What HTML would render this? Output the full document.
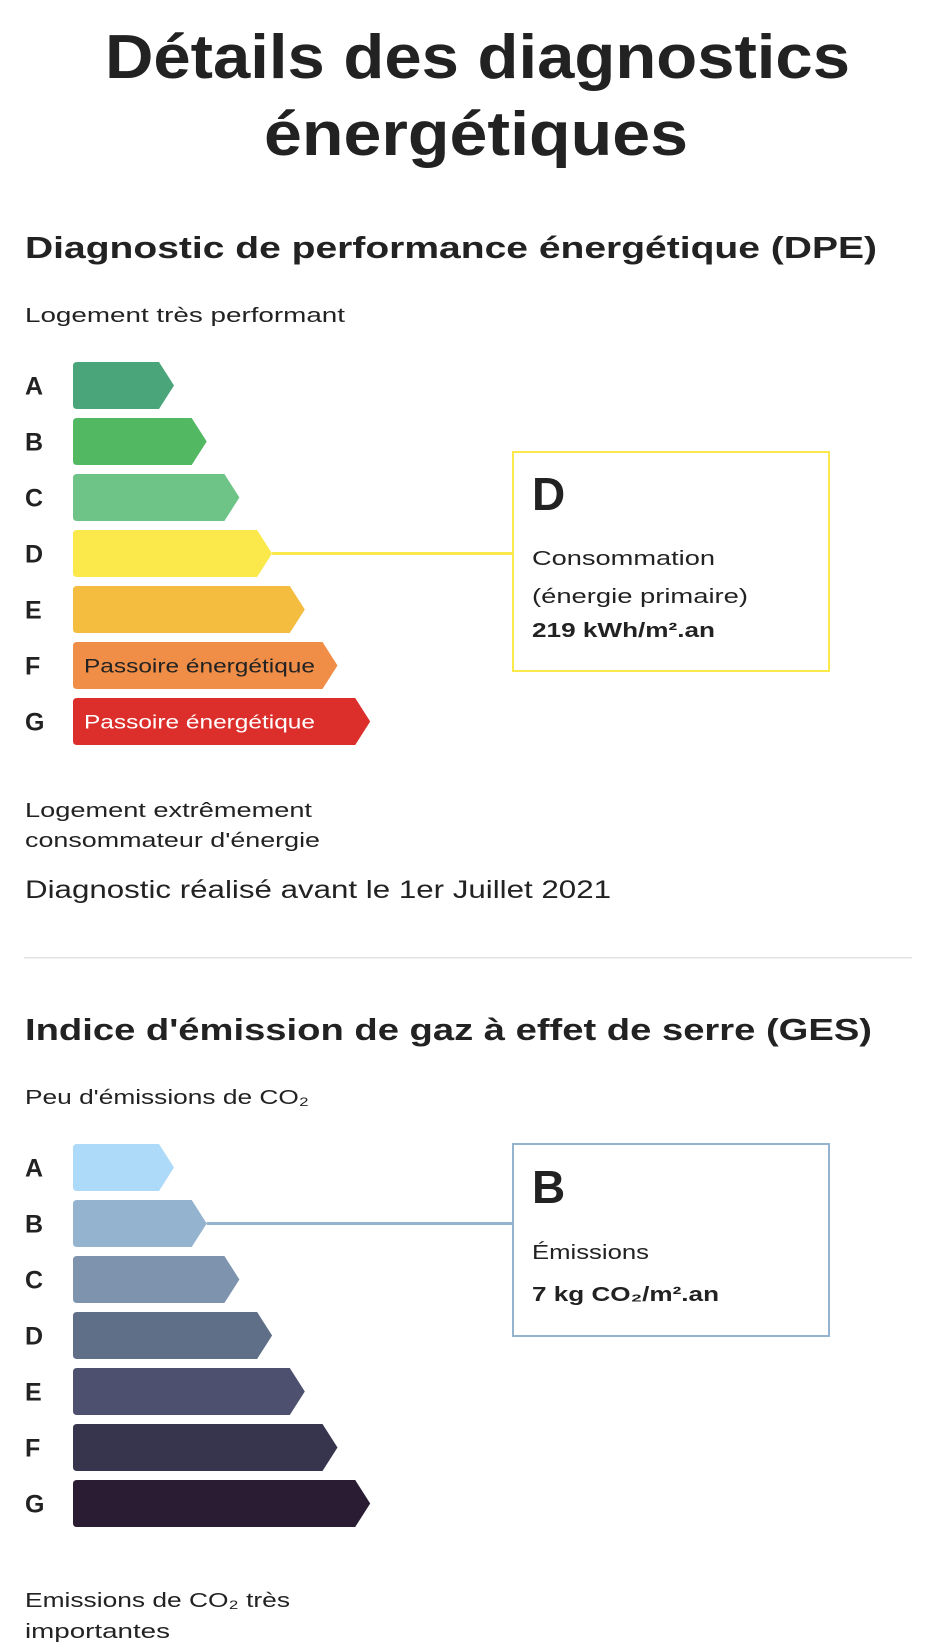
<!DOCTYPE html>
<html><head><meta charset="utf-8"><style>
html,body{margin:0;padding:0;background:#fff;}
svg{display:block;font-family:"Liberation Sans",sans-serif;}
</style></head><body>
<svg id="page" width="926" height="1650" viewBox="0 0 926 1650" xmlns="http://www.w3.org/2000/svg">
<g fill="#222">
<text x="105" y="78" font-size="62" font-weight="bold" textLength="745" lengthAdjust="spacingAndGlyphs">Détails des diagnostics</text>
<text x="264" y="155" font-size="62" font-weight="bold" textLength="424" lengthAdjust="spacingAndGlyphs">énergétiques</text>
<text x="25" y="258" font-size="31" font-weight="bold" textLength="852" lengthAdjust="spacingAndGlyphs">Diagnostic de performance énergétique (DPE)</text>
<text x="25" y="322" font-size="20" textLength="320" lengthAdjust="spacingAndGlyphs">Logement très performant</text>
<text x="25" y="817" font-size="20" textLength="287" lengthAdjust="spacingAndGlyphs">Logement extrêmement</text>
<text x="25" y="847" font-size="20" textLength="295" lengthAdjust="spacingAndGlyphs">consommateur d'énergie</text>
<text x="25" y="898" font-size="25" textLength="586" lengthAdjust="spacingAndGlyphs">Diagnostic réalisé avant le 1er Juillet 2021</text>
<rect x="24" y="957" width="888" height="1.5" fill="#e3e3e3"/>
<text x="25" y="1040" font-size="31" font-weight="bold" textLength="847" lengthAdjust="spacingAndGlyphs">Indice d'émission de gaz à effet de serre (GES)</text>
<text x="25" y="1104" font-size="20" textLength="284" lengthAdjust="spacingAndGlyphs">Peu d'émissions de CO₂</text>
<text x="25" y="1607" font-size="20" textLength="265" lengthAdjust="spacingAndGlyphs">Emissions de CO₂ très</text>
<text x="25" y="1638" font-size="20" textLength="145" lengthAdjust="spacingAndGlyphs">importantes</text>
</g>
<g id="dpe"></g>
<g id="ges"></g>
<g>
<rect x="513" y="452" width="316" height="219" fill="none" stroke="#fbe94c" stroke-width="2"/>
<text x="532" y="510" font-size="46" font-weight="bold" fill="#222">D</text>
<text x="532" y="565" font-size="20" fill="#222" textLength="183" lengthAdjust="spacingAndGlyphs">Consommation</text>
<text x="532" y="603" font-size="20" fill="#222" textLength="216" lengthAdjust="spacingAndGlyphs">(énergie primaire)</text>
<text x="532" y="637" font-size="20" font-weight="bold" fill="#222" textLength="183" lengthAdjust="spacingAndGlyphs">219 kWh/m².an</text>
</g>
<g>
<rect x="513" y="1144" width="316" height="192" fill="none" stroke="#93b3cf" stroke-width="2"/>
<text x="532" y="1203" font-size="46" font-weight="bold" fill="#222">B</text>
<text x="532" y="1259" font-size="20" fill="#222" textLength="117" lengthAdjust="spacingAndGlyphs">Émissions</text>
<text x="532" y="1301" font-size="20" font-weight="bold" fill="#222" textLength="187" lengthAdjust="spacingAndGlyphs">7 kg CO₂/m².an</text>
</g>
</svg>
<script>
const classes = ["A","B","C","D","E","F","G"];
const dpeColors = ["#4aa57a","#52b862","#6dc486","#fbe94c","#f4bd40","#f08e48","#dc2f2c"];
const gesColors = ["#acdaf8","#93b3cf","#7d93ae","#5f6f88","#4d506e","#37344d","#291c33"];
const dpeLabels = ["","","","","","Passoire énergétique","Passoire énergétique"];
const dpeRating = "D";
const gesRating = "B";
const NS = "http://www.w3.org/2000/svg";
function xEnd(i){ return 159 + i*32.7; }
function yTop(top,i){ return top + i*56; }
function drawScale(id, top, colors, labels, rating, lineColor, boxX){
  const g = document.getElementById(id);
  classes.forEach((c,i)=>{
    const y = yTop(top,i), h = 47, xe = xEnd(i);
    const p = document.createElementNS(NS,"path");
    
    
    p.setAttribute("d", `M77 ${y} H${xe} L${xe+15} ${y+h/2} L${xe} ${y+h} H77 Q73 ${y+h} 73 ${y+h-4} V${y+4} Q73 ${y} 77 ${y} Z`);
    p.setAttribute("fill", colors[i]);
    g.appendChild(p);
    const t = document.createElementNS(NS,"text");
    
    
    t.setAttribute("x", 25); t.setAttribute("y", y+h/2+9);
    t.setAttribute("font-size", 25); t.setAttribute("font-weight","bold"); t.setAttribute("fill","#222");
    t.textContent = c; g.appendChild(t);
    if (labels && labels[i]) {
      const l = document.createElementNS(NS,"text");
      
      
      l.setAttribute("x", 84); l.setAttribute("y", y+h/2+7);
      l.setAttribute("font-size", 19); l.setAttribute("textLength", 231); l.setAttribute("lengthAdjust","spacingAndGlyphs");
      l.setAttribute("fill", i===6 ? "#fff" : "#222");
      l.textContent = labels[i]; g.appendChild(l);
    }
    if (c === rating) {
      const ln = document.createElementNS(NS,"rect");
      
      
      ln.setAttribute("x", xe+15); ln.setAttribute("y", y+h/2-1.5);
      ln.setAttribute("width", boxX-(xe+15)); ln.setAttribute("height", 3);
      ln.setAttribute("fill", lineColor); g.appendChild(ln);
    }
  });
}
drawScale("dpe", 362, dpeColors, dpeLabels, dpeRating, "#fbe94c", 513);
drawScale("ges", 1144, gesColors, null, gesRating, "#93b3cf", 513);
</script>
</body></html>
